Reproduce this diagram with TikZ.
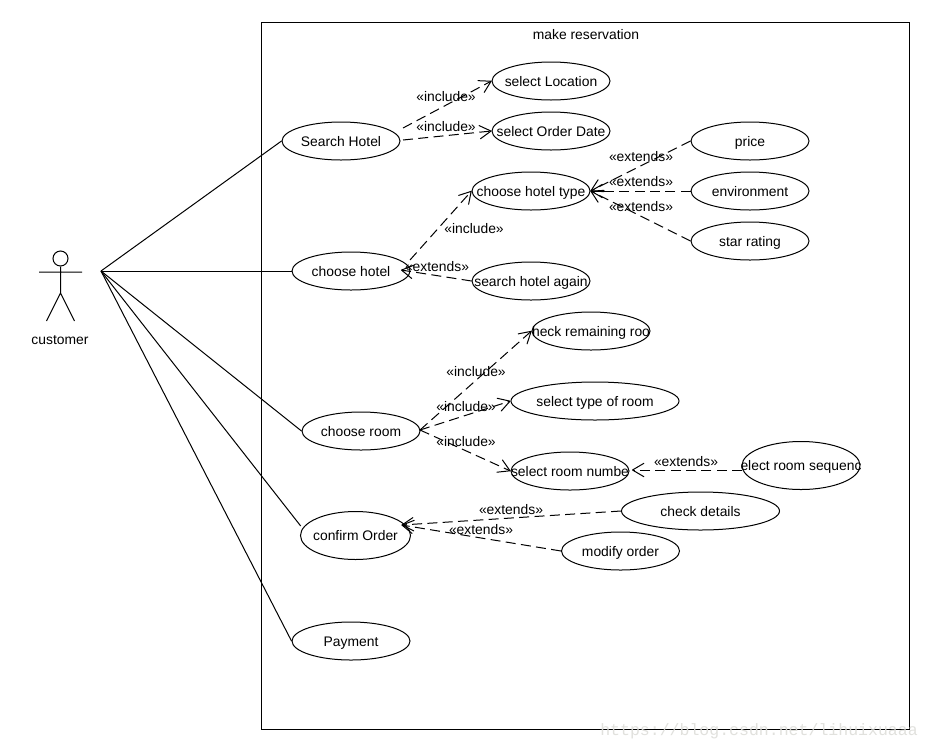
\documentclass[tikz,border=0pt]{standalone}
\usepackage{fontspec}
\setmainfont{Liberation Sans}
\newfontfamily\wmfont{Liberation Mono}
\usetikzlibrary{shapes.geometric,arrows.meta}
\definecolor{wmgrey}{RGB}{222,222,218}
\newcommand{\ct}[1]{\makebox[0pt]{\raisebox{-3.75pt}[0pt][0pt]{#1}}}
\tikzset{
  x=.75pt,y=-.75pt,
  lineink/.style={line width=.75pt,black},
  ue/.style 2 args={ellipse,draw,lineink,fill=white,inner sep=0pt,font=\fontsize{10.4}{12}\selectfont,
    minimum width={#1*1.5pt},minimum height={#2*1.5pt}},
  uc/.style={ue={59}{19}},
  tag/.style={font=\fontsize{10.4}{12}\selectfont,inner sep=0pt},
  assoc/.style={lineink},
  dep/.style={lineink,dash pattern=on 7.5pt off 4pt,
    -{Straight Barb[length=8.5pt,width=10pt,line width=.75pt,round=false]}},
}
\begin{document}
\begin{tikzpicture}
\path[use as bounding box,fill=white] (0,0) rectangle (930,750);
% frame
\node[draw,lineink,minimum width=486pt,minimum height=530.25pt,inner sep=0pt] (frame) at (585.5,375.5) {};
\node[tag] (title) at (586,34.5) {make reservation};
% actor
\node[circle,draw,lineink,minimum size=11.25pt,inner sep=0pt] (head) at (60.5,258.5) {};
\coordinate (neck) at (60.5,293);
\coordinate (armL) at (39,272);
\coordinate (armR) at (82,272);
\coordinate (legL) at (46.5,321);
\coordinate (legR) at (74.5,321);
\draw[lineink] (head.south) -- (neck) (armL) -- (armR) (legL) -- (neck) -- (legR);
\node[tag] (customer) at (60,340.5) {customer};
\coordinate (hub) at (101,271);
% use cases
\node[uc] (search) at (341,141) {\ct{Search Hotel}};
\node[uc] (loc) at (551,81) {\ct{select Location}};
\node[uc] (date) at (551,131) {\ct{select Order Date}};
\node[uc] (price) at (750,141) {\ct{price}};
\node[uc] (env) at (750,191) {\ct{environment}};
\node[uc] (star) at (750,241) {\ct{star rating}};
\node[uc] (type) at (531,191) {\ct{choose hotel type}};
\node[uc] (again) at (531,281) {\ct{search hotel again}};
\node[uc] (hotel) at (351,271) {\ct{choose hotel}};
\node[uc] (remain) at (591,331) {\ct{heck remaining roo}};
\node[ue={84}{19}] (rtype) at (595,401) {\ct{select type of room}};
\node[uc] (rnum) at (570,471) {\ct{select room numbe}};
\node[ue={59}{24}] (rseq) at (801,465.5) {\ct{elect room sequenc}};
\node[uc] (room) at (361,431) {\ct{choose room}};
\node[ue={79}{19}] (details) at (700.5,511) {\ct{check details}};
\node[uc] (modify) at (620.5,551) {\ct{modify order}};
\node[ue={55}{24}] (confirm) at (355.5,535.5) {\ct{confirm Order}};
\node[uc] (pay) at (351,641) {\ct{Payment}};
% associations
\coordinate (c1) at (300.7,526);
\draw[assoc] (hub) -- (search.west);
\draw[assoc] (hub) -- (hotel.west);
\draw[assoc] (hub) -- (room.west);
\draw[assoc] (hub) -- (c1);
\draw[assoc] (hub) -- (pay.west);
% dependency free ends
\coordinate (s1) at (403,128);
\coordinate (s2) at (403,140);
\coordinate (s3) at (410,260);
\coordinate (s4) at (420,430);
\coordinate (t1) at (401,270);
\coordinate (t2) at (632,470);
\coordinate (t3) at (401.5,525);
\coordinate (s5) at (742,470);
% dependencies
\draw[dep] (s1) -- (loc.west);
\draw[dep] (s2) -- (date.west);
\draw[dep] (s3) -- (type.west);
\draw[dep] (again.west) -- (t1);
\draw[dep] (price.west) -- (type.east);
\draw[dep] (env.west) -- (type.east);
\draw[dep] (star.west) -- (type.east);
\draw[dep] (s4) -- (remain.west);
\draw[dep] (s4) -- (rtype.west);
\draw[dep] (s4) -- (rnum.west);
\draw[dep] (s5) -- (t2);
\draw[dep] (details.west) -- (t3);
\draw[dep] (modify.west) -- (t3);
% labels
\node[tag] (l1) at (446,97) {«include»};
\node[tag] (l2) at (446,127) {«include»};
\node[tag] (l3) at (474,229) {«include»};
\node[tag] (l4) at (437,267) {«extends»};
\node[tag] (l5) at (641,157) {«extends»};
\node[tag] (l6) at (641,182) {«extends»};
\node[tag] (l7) at (641,207) {«extends»};
\node[tag] (l8) at (476,372) {«include»};
\node[tag] (l9) at (466,407) {«include»};
\node[tag] (l10) at (466,442) {«include»};
\node[tag] (l11) at (686,462) {«extends»};
\node[tag] (l12) at (511,510) {«extends»};
\node[tag] (l13) at (481,530) {«extends»};
% watermark
\node[inner sep=0pt,text=wmgrey,font=\wmfont\fontsize{12.4}{14}\selectfont,opacity=.9] (wm) at (759,731) {https://blog.csdn.net/lihuixuaaa};
\end{tikzpicture}
\end{document}
